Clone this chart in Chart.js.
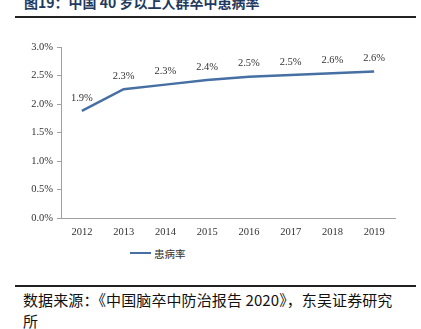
<!DOCTYPE html>
<html><head><meta charset="utf-8">
<script src="https://cdn.jsdelivr.net/npm/chart.js@4/dist/chart.umd.min.js"></script>
<style>
html,body{margin:0;padding:0;background:#fff;width:421px;height:329px;overflow:hidden;position:relative;font-family:"Noto Sans CJK SC",sans-serif;}
#title{position:absolute;left:24px;top:-8px;font-size:14px;font-weight:bold;color:#1f3a60;white-space:nowrap;}
.rule{position:absolute;left:15px;width:401px;height:2px;background:#222;}
#wrap{position:absolute;left:0;top:35px;width:421px;height:210px;}
#legend{position:absolute;left:130px;top:245px;height:16px;font-size:10.5px;color:#333;display:flex;align-items:center;}
#legend span.l{display:inline-block;width:21px;height:2px;background:#466fa3;margin-right:3px;}
#src{position:absolute;left:23px;top:289px;font-size:15px;color:#111;line-height:21px;width:398px;letter-spacing:0.1px;}
</style></head><body>
<div id="title">图19：中国 40 岁以上人群卒中患病率</div>
<div class="rule" style="top:16px"></div>
<div id="wrap"><canvas id="c"></canvas></div>
<div id="legend"><span class="l"></span>患病率</div>
<div class="rule" style="top:285px"></div>
<div id="src">数据来源：《中国脑卒中防治报告 2020》，东吴证券研究<br>所</div>
<script>
const years = ["2012","2013","2014","2015","2016","2017","2018","2019"];
const prevalence = [1.88, 2.26, 2.34, 2.42, 2.48, 2.51, 2.54, 2.57];
const valueLabels = ["1.9%","2.3%","2.3%","2.4%","2.5%","2.5%","2.6%","2.6%"];
const yTicks = [0, 0.5, 1.0, 1.5, 2.0, 2.5, 3.0];

const labelPlugin = {
  id: 'vlabels',
  afterDatasetsDraw(chart) {
    const ctx = chart.ctx;
    const meta = chart.getDatasetMeta(0);
    ctx.save();
    ctx.font = '10.5px "Liberation Serif", serif';
    ctx.fillStyle = '#333';
    ctx.textAlign = 'center';
    ctx.textBaseline = 'middle';
    meta.data.forEach((pt, i) => {
      ctx.fillText(valueLabels[i], pt.x, pt.y - 13);
    });
    ctx.restore();
  }
};

new Chart(document.getElementById('c'), {
  type: 'line',
  data: {
    labels: years,
    datasets: [{
      label: '患病率',
      data: prevalence,
      borderColor: '#466fa3',
      borderWidth: 2.5,
      pointRadius: 0,
      tension: 0,
      fill: false
    }]
  },
  options: {
    responsive: true,
    maintainAspectRatio: false,
    animation: false,
    layout: { padding: { left: 0, right: 26, top: 12, bottom: 0 } },
    plugins: { legend: { display: false }, tooltip: { enabled: false } },
    scales: {
      x: {
        offset: true,
        grid: { display: false, drawTicks: false },
        border: { color: '#a0a0a0', width: 1 },
        ticks: { color: '#333', font: { family: '"Liberation Serif", serif', size: 10.5 }, padding: 8, maxRotation: 0 },
        afterFit(s) { s.height = 27; }
      },
      y: {
        min: 0, max: 3,
        afterBuildTicks(s) { s.ticks = yTicks.map(v => ({ value: v })); },
        grid: { display: true, drawOnChartArea: false, drawTicks: true, tickLength: 4, color: '#a0a0a0' },
        border: { color: '#a0a0a0', width: 1 },
        ticks: { color: '#333', font: { family: '"Liberation Serif", serif', size: 10.5 }, padding: 4,
                 callback: v => v.toFixed(1) + '%' },
        afterFit(s) { s.width = 61; }
      }
    }
  },
  plugins: [labelPlugin]
});
</script>
</body></html>
